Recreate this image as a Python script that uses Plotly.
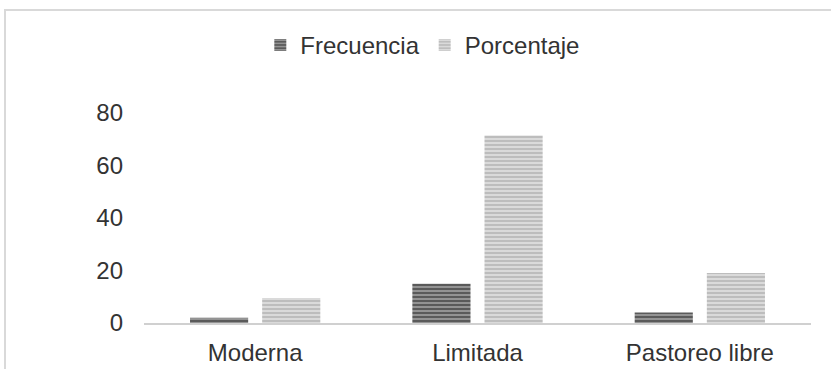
import plotly.graph_objects as go

# Tipos de cría: frecuencia absoluta y porcentaje (n = 21)
categorias = ["Moderna", "Limitada", "Pastoreo libre"]
frecuencia = [2, 15, 4]
porcentaje = [9.52, 71.43, 19.05]
ticks_y = [0, 20, 40, 60, 80]

FONT = "Liberation Sans, Arial, sans-serif"
TEXT = "#333333"

fig = go.Figure()
fig.add_trace(go.Bar(
    name="Frecuencia", x=categorias, y=frecuencia,
    marker=dict(
        color="#5f5f5f",
        line=dict(width=0),
        pattern=dict(shape="-", bgcolor="#5a5a5a", fgcolor="#9a9a9a",
                     size=4, solidity=0.45, fillmode="replace"),
    ),
))
fig.add_trace(go.Bar(
    name="Porcentaje", x=categorias, y=porcentaje,
    marker=dict(
        color="#c4c4c4",
        line=dict(width=0),
        pattern=dict(shape="-", bgcolor="#bdbdbd", fgcolor="#dedede",
                     size=4, solidity=0.45, fillmode="replace"),
    ),
))

fig.update_layout(
    width=831, height=369,
    margin=dict(l=144, r=20, t=113, b=46),
    paper_bgcolor="white", plot_bgcolor="white",
    font=dict(family=FONT, size=24, color=TEXT),
    barmode="group", bargap=0.351, bargroupgap=0.194,
    showlegend=True,
    legend=dict(
        orientation="h", x=0.418, xanchor="center", y=1.322, yanchor="middle",
        font=dict(family=FONT, size=24, color=TEXT),
        itemwidth=30, tracegroupgap=0,
        bgcolor="rgba(0,0,0,0)",
    ),
    xaxis=dict(
        range=[-0.5, 2.5], showgrid=False, zeroline=False,
        showline=True, linecolor="#d0d0d0", linewidth=2,
        ticks="", ticklabelstandoff=7, automargin=False,
        tickfont=dict(family=FONT, size=24, color=TEXT),
        fixedrange=True,
    ),
    yaxis=dict(
        range=[0, 80], tickvals=ticks_y, ticktext=[str(v) for v in ticks_y],
        showgrid=False, zeroline=False, showline=False,
        ticks="", ticklabelstandoff=20, automargin=False,
        tickfont=dict(family=FONT, size=24, color=TEXT),
        fixedrange=True,
    ),
    shapes=[dict(
        type="rect", xref="paper", yref="paper",
        x0=-0.2084, x1=1.06, y0=-0.3, y1=1.4905,
        line=dict(color="#d9d9d9", width=2), fillcolor="rgba(0,0,0,0)",
        layer="below",
    )],
)

fig.write_html("out.html")
